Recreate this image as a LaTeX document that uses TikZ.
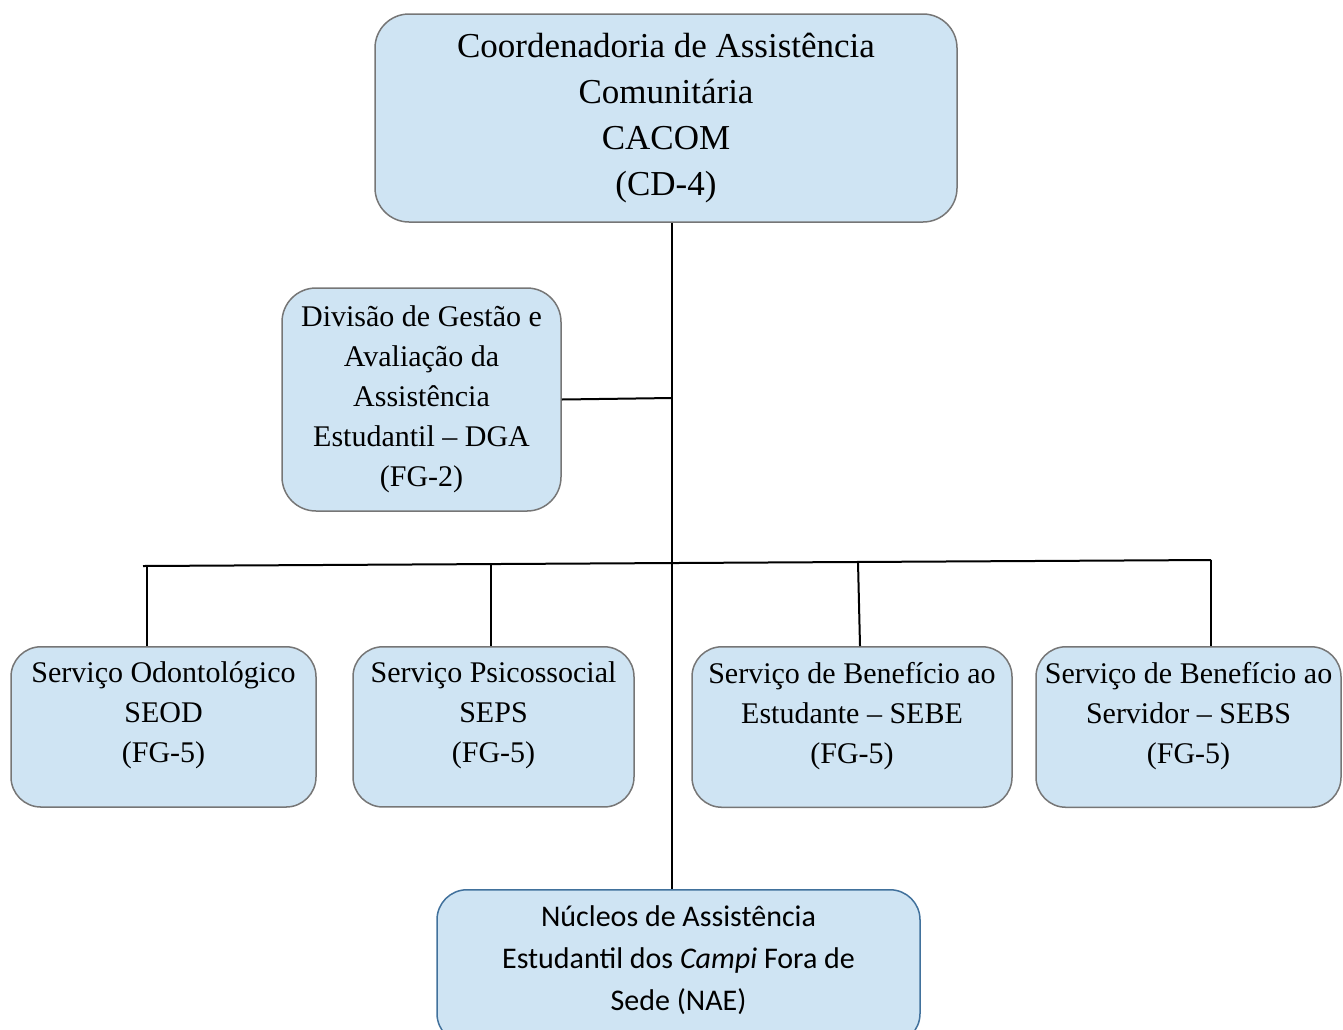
\documentclass[tikz,border=0pt]{standalone}
\usepackage{fontspec}
\setmainfont{Liberation Serif}
\newfontfamily\naefont{Carlito}
\usepackage{tikz}
\usetikzlibrary{positioning}

\definecolor{boxblue}{RGB}{207,228,243}
\definecolor{boxgray}{RGB}{118,118,118}
\definecolor{naeblue}{RGB}{65,113,156}

\newcommand{\topfont}{\fontsize{17.5pt}{23pt}\selectfont}
\newcommand{\unitfont}{\fontsize{15pt}{20pt}\selectfont}
\newcommand{\naetext}{\naefont\fontsize{15pt}{21pt}\selectfont}

\begin{document}
\begin{tikzpicture}[x=0.5pt, y=-0.5pt,
    unit/.style={draw=boxgray, fill=boxblue, line width=0.75pt, rounded corners=15pt,
                 align=center, inner xsep=0pt, font=\unitfont},
    service/.style={unit, anchor=north, inner ysep=7.6pt, text depth=14.5pt},
    link/.style={line width=1pt}]

            \useasboundingbox (0,0) rectangle (1343,1029);

            \node[unit, font=\topfont, rounded corners=17pt, minimum width=291pt, minimum height=104pt] (cacom) at (666,118)
                {Coordenadoria de Assistência\\ Comunitária\\ CACOM\\ (CD-4)};

            \node[unit, rounded corners=17pt, minimum width=139.5pt, minimum height=111.5pt] (dga) at (421.5,399.5)
                {Divisão de Gestão e\\ Avaliação da\\ Assistência\\ Estudantil -- DGA\\ (FG-2)};


            \node[service, minimum width=152.5pt] (seod) at (163.5,646) {Serviço Odontológico\\ SEOD\\ (FG-5)};
            \node[service, minimum width=140.5pt] (seps) at (493.5,646) {Serviço Psicossocial\\ SEPS\\ (FG-5)};
            \node[service, minimum width=160pt] (sebe) at (852,646) {Serviço de Benefício ao\\ Estudante -- SEBE\\ (FG-5)};
            \node[service, minimum width=152.5pt] (sebs) at (1188.5,646) {Serviço de Benefício ao\\ Servidor -- SEBS\\ (FG-5)};

            \node[service, draw=naeblue, font=\naetext, minimum width=241.5pt, inner ysep=8pt, text depth=8.5pt] (nae) at (678.5,889)
                {Núcleos de Assistência\\ Estudantil dos \textit{Campi} Fora de\\ Sede (NAE)};

            % Junction points on the lines
            \coordinate (jdga) at (672,398);
            \coordinate (jbus) at (672,563);
            \coordinate (busl) at (143,566);
            \coordinate (busr) at (1211,560);
            \coordinate (dseod) at (147,566);
            \coordinate (dseps) at (491,565);
            \coordinate (dsebe) at (858,562);

            % Connections: trunk and branches
            \draw[link] (cacom.south -| jbus) -- (nae.north -| jbus);
            \draw[link] (dga.east) -- (jdga);
            \draw[link] (busl) -- (busr);
            \draw[link] (dseod) -- (seod.north -| dseod);
            \draw[link] (dseps) -- (seps.north -| dseps);
            \draw[link] (dsebe) -- ([xshift=1pt]sebe.north -| dsebe);
            \draw[link] (busr) -- (sebs.north -| busr);

        \end{tikzpicture}
\end{document}
